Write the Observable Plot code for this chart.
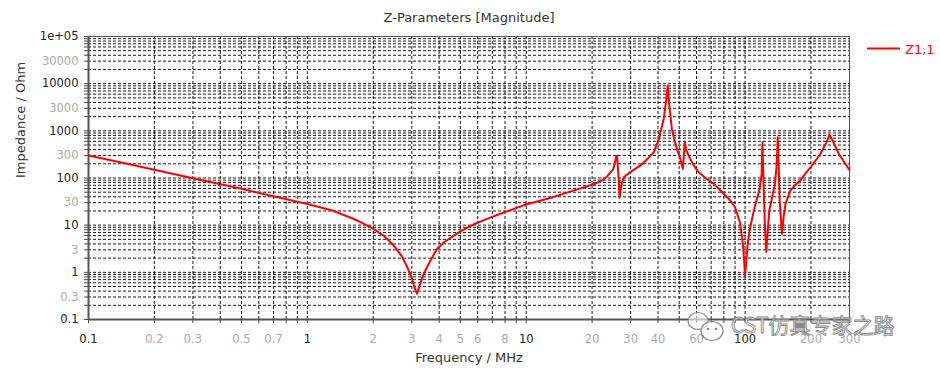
<!DOCTYPE html>
<html>
<head>
<meta charset="utf-8">
<script src="https://cdn.jsdelivr.net/npm/d3@7"></script>
<script src="https://cdn.jsdelivr.net/npm/@observablehq/plot@0.6"></script>
<style>
  html, body { margin: 0; padding: 0; background: #fff; }
  #chart { width: 940px; height: 370px; }
  svg { font-family: "DejaVu Sans", sans-serif; }
</style>
</head>
<body>
<div id="chart"></div>
<script>
// ---- data ----
const freqMHz = [0.1, 0.15, 0.2, 0.3, 0.5, 0.7, 1, 1.3, 1.6, 1.75, 2.0, 2.25, 2.48, 2.7, 2.86, 3.0, 3.1, 3.17, 3.25, 3.35, 3.46, 3.7, 3.92, 4.2, 4.67, 5, 5.7, 6.62, 8, 10, 13, 16, 20, 22, 23.4, 25, 25.8, 26.0, 26.4, 26.7, 27.2, 27.9, 30, 33.3, 36, 38.3, 40.5, 42.5, 43.6, 44.3, 45, 46.3, 47.5, 48.8, 50.5, 52, 52.6, 53, 53.8, 55.2, 58, 61.4, 66, 72, 78.6, 85.7, 90, 95, 98, 100, 101.5, 102.8, 105, 109, 113, 116.7, 119, 120, 121, 123, 125, 127, 129, 133, 137, 139.5, 141, 142.5, 144, 147.5, 150, 153, 161, 170, 179, 190, 202, 221, 235, 243, 250, 268, 285, 300];
const impedanceOhm = [300, 200, 150, 99, 59, 41, 28, 20.5, 14, 11.6, 8.4, 5.8, 3.7, 2.2, 1.29, 0.75, 0.45, 0.35, 0.5, 0.78, 1.09, 2.0, 3.15, 4.3, 6.0, 7.4, 10.2, 13.6, 19, 27.4, 38, 52, 72, 86, 108, 155, 286, 300, 110, 38, 70, 104, 135, 185, 260, 352, 700, 1800, 4500, 9100, 3600, 1100, 650, 415, 260, 157, 330, 575, 400, 300, 190, 132, 100, 75, 50, 33, 24, 11, 3.5, 0.86, 2.0, 4.0, 8, 18, 35, 60, 120, 575, 150, 12, 2.7, 8, 20, 40, 75, 200, 730, 170, 30, 6.6, 15, 28.4, 54, 72, 88, 130, 184, 326, 560, 820, 650, 326, 210, 149];

const xDecades = [0.1, 1, 10, 100];
const xDecadeLabels = ["0.1", "1", "10", "100"];
const xMinorLabeled = [0.2, 0.3, 0.5, 0.7, 2, 3, 4, 5, 6, 8, 20, 30, 40, 60, 200, 300];
const xMinorLabelText = ["0.2", "0.3", "0.5", "0.7", "2", "3", "4", "5", "6", "8", "20", "30", "40", "60", "200", "300"];
const yDecades = [0.1, 1, 10, 100, 1000, 10000, 100000];
const yDecadeLabels = ["0.1", "1", "10", "100", "1000", "10000", "1e+05"];
const yMinorLabeled = [0.3, 3, 30, 300, 3000, 30000];
const yMinorLabelText = ["0.3", "3", "30", "300", "3000", "30000"];

const seriesName = "Z1,1";
const titleText = "Z-Parameters [Magnitude]";
const xTitle = "Frequency / MHz";
const yTitle = "Impedance / Ohm";
const watermarkText = "CST仿真专家之路";

// ---- derived tables ----
const curve = freqMHz.map((f, i) => ({f, z: impedanceOhm[i]}));
const xGrid = [];
for (const d of xDecades) for (let k = 1; k <= 9; k++) { const v = +(d * k).toPrecision(3); if (v <= 300) xGrid.push(v); }
const yGrid = [];
for (const d of yDecades) for (let k = 1; k <= 9; k++) { const v = +(d * k).toPrecision(3); if (v <= 100000) yGrid.push(v); }

const xMaj = xDecades.map((v, i) => ({v, t: xDecadeLabels[i]}));
const xMin = xMinorLabeled.map((v, i) => ({v, t: xMinorLabelText[i]}));
const yMaj = yDecades.map((v, i) => ({v, t: yDecadeLabels[i]}));
const yMin = yMinorLabeled.map((v, i) => ({v, t: yMinorLabelText[i]}));

const fs = 11.5;
const plot = Plot.plot({
  width: 940,
  height: 370,
  marginLeft: 88,
  marginRight: 91,
  marginTop: 36,
  marginBottom: 51,
  style: {fontFamily: "DejaVu Sans, sans-serif", background: "#fff"},
  x: {type: "log", domain: [0.1, 300], label: null},
  y: {type: "log", domain: [0.1, 100000], label: null},
  marks: [
    // dashed grid
    Plot.ruleX(xGrid, {x: d => d, stroke: "#000", strokeWidth: 1, strokeDasharray: "3,2", strokeOpacity: 0.9}),
    Plot.ruleY(yGrid, {y: d => d, stroke: "#000", strokeWidth: 1, strokeDasharray: "3,2", strokeOpacity: 0.9}),
    // tick marks
    Plot.axisX(xGrid, {tickSize: 4, tickFormat: () => "", stroke: "#444", label: null}),
    Plot.axisY(yGrid, {tickSize: 4, tickFormat: () => "", stroke: "#444", label: null}),
    // frame
    Plot.frame({stroke: "#555", strokeWidth: 1}),
    Plot.ruleY([0.1], {stroke: "#555", strokeWidth: 2}),
    Plot.ruleX([0.1], {stroke: "#555", strokeWidth: 2}),
    // tick labels
    Plot.text(xMaj, {x: "v", text: "t", frameAnchor: "bottom", dy: 20, lineAnchor: "middle", fill: "#222", fontSize: fs}),
    Plot.text(xMin, {x: "v", text: "t", frameAnchor: "bottom", dy: 20, lineAnchor: "middle", fill: "#aaa", fontSize: fs}),
    Plot.text(yMaj, {y: "v", text: "t", frameAnchor: "left", dx: -10, textAnchor: "end", fill: "#222", fontSize: fs}),
    Plot.text(yMin, {y: "v", text: "t", frameAnchor: "left", dx: -10, textAnchor: "end", fill: "#aaa", fontSize: fs}),
    // axis titles and chart title
    Plot.text([xTitle], {frameAnchor: "bottom", dy: 38, lineAnchor: "middle", fill: "#333", fontSize: 13}),
    Plot.text([yTitle], {frameAnchor: "left", dx: -68, rotate: -90, lineAnchor: "middle", fill: "#333", fontSize: 13}),
    Plot.text([titleText], {frameAnchor: "top", dy: -19, lineAnchor: "middle", fill: "#333", fontSize: 13}),
    // data
    Plot.line(curve, {x: "f", y: "z", stroke: "#f00", strokeWidth: 2, strokeLinejoin: "round"})
  ]
});
document.getElementById("chart").appendChild(plot);

// legend and watermark (decorations)
const svg = d3.select(plot);
const lg = svg.append("g");
lg.append("line").attr("x1", 867).attr("x2", 900).attr("y1", 48.5).attr("y2", 48.5).attr("stroke", "#f00").attr("stroke-width", 2);
lg.append("text").attr("x", 905).attr("y", 49).attr("dy", "0.35em").attr("text-anchor", "start")
  .attr("fill", "#f00").attr("font-size", 13).text(seriesName);

const wm = svg.append("g");
wm.append("ellipse").attr("cx", 698).attr("cy", 321).attr("rx", 10).attr("ry", 8.5).attr("fill", "#fff").attr("fill-opacity", 0.6).attr("stroke", "#888").attr("stroke-width", 1.2);
wm.append("ellipse").attr("cx", 712).attr("cy", 331).attr("rx", 11).attr("ry", 9.5).attr("fill", "#fff").attr("fill-opacity", 0.6).attr("stroke", "#888").attr("stroke-width", 1.2);
wm.append("circle").attr("cx", 708).attr("cy", 329).attr("r", 1.3).attr("fill", "#888");
wm.append("circle").attr("cx", 716).attr("cy", 329).attr("r", 1.3).attr("fill", "#888");
wm.append("text").attr("x", 731).attr("y", 326).attr("dy", "0.35em").attr("text-anchor", "start")
  .attr("font-family", "Noto Sans CJK SC, sans-serif").attr("font-size", 21)
  .attr("fill", "#fff").attr("fill-opacity", 0.7).attr("stroke", "#888").attr("stroke-width", 0.9)
  .text(watermarkText);
</script>
</body>
</html>
